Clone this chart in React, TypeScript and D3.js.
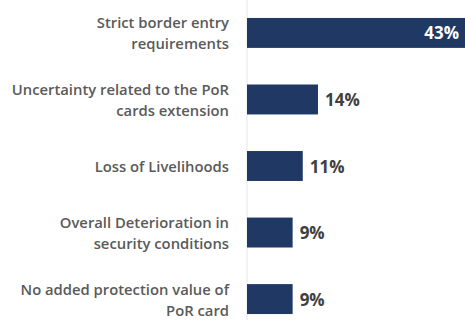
import React from "react";
import * as d3 from "d3";

const categories: string[][] = [
  ["Strict border entry", "requirements"],
  ["Uncertainty related to the PoR", "cards extension"],
  ["Loss of Livelihoods"],
  ["Overall Deterioration in", "security conditions"],
  ["No added protection value of", "PoR card"],
];
const values: number[] = [43, 14, 11, 9, 9];
const valueLabels: string[] = ["43%", "14%", "11%", "9%", "9%"];

const W = 465;
const H = 320;
const FONT = "'Open Sans', sans-serif";

export default function App() {
  const x0 = 247;
  const x = d3.scaleLinear().domain([0, 43]).range([x0, 465]);
  const y = d3
    .scaleBand<number>()
    .domain(values.map((_, i) => i))
    .range([0, 332])
    .paddingInner(0.55)
    .paddingOuter(0.27);
  return (
    <svg
      width={W}
      height={H}
      style={{ position: "absolute", left: 0, top: 0, background: "#fff" }}
    >
      <line x1={x0} x2={x0} y1={0} y2={H} stroke="#e6e6e6" strokeWidth={1} />
      {values.map((v, i) => {
        const yb = y(i)!;
        const bh = y.bandwidth();
        const cy = yb + bh / 2;
        const lines = categories[i];
        const lh = 21;
        const inside = i === 0;
        return (
          <g key={i}>
            <rect
              x={x0}
              y={yb}
              width={x(v) - x0}
              height={bh}
              fill="#1f3864"
            />
            {lines.map((t, j) => (
              <text
                key={j}
                x={229}
                y={cy + (j - (lines.length - 1) / 2) * lh}
                textAnchor="end"
                dominantBaseline="central"
                fontFamily={FONT}
                fontWeight={600}
                fontSize={14.8}
                fill="#5a5a5a"
              >
                {t}
              </text>
            ))}
            <text
              x={inside ? x(v) - 6 : x(v) + 7}
              y={cy}
              textAnchor={inside ? "end" : "start"}
              dominantBaseline="central"
              fontFamily={FONT}
              fontWeight={700}
              fontSize={17}
              fill={inside ? "#ffffff" : "#404040"}
            >
              {valueLabels[i]}
            </text>
          </g>
        );
      })}
    </svg>
  );
}
